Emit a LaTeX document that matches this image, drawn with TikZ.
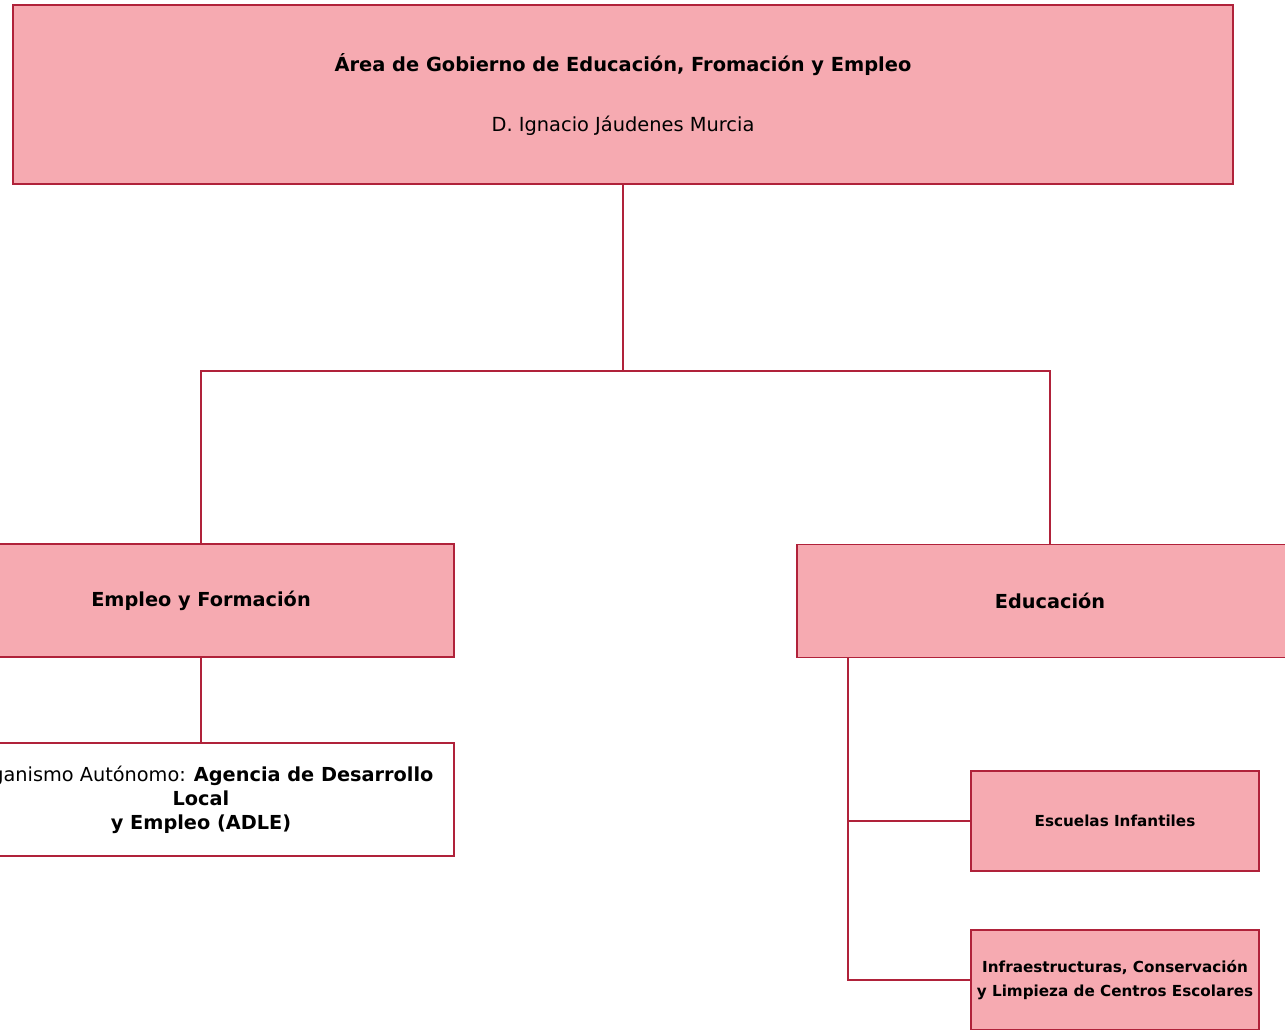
\documentclass[tikz,border=0pt]{standalone}
\usepackage{fontspec}
\setmainfont{DejaVu Sans}
\usepackage{tikz}
\usetikzlibrary{positioning}
\definecolor{boxpink}{HTML}{F6AAB1}
\definecolor{boxline}{HTML}{B0223A}
\tikzset{every picture/.style={line width=1.5pt},
  unitbox/.style={draw=boxline,fill=boxpink,align=center,inner sep=0pt},
  bigunit/.style={unitbox,minimum width=506pt,minimum height=113pt,font=\fontsize{19.3}{24}\selectfont\bfseries},
  smallunit/.style={unitbox,minimum width=288pt,minimum height=100pt,font=\fontsize{15.2}{24}\selectfont\bfseries},
  orgbox/.style={unitbox,fill=white,minimum width=506pt,minimum height=113pt,font=\fontsize{19.3}{24}\selectfont},
  link/.style={draw=boxline}}

\begin{document}
\begin{tikzpicture}[x=1pt,y=-1pt]
\useasboundingbox (0,0) rectangle (1285,1029);
\clip (0,0) rectangle (1285,1029);
\node[unitbox,minimum width=1220pt,minimum height=179pt,font=\fontsize{19.4}{22}\selectfont] (area) at (623,94.5)
  {\textbf{Área de Gobierno de Educación, Fromación y Empleo}\\[38pt]D. Ignacio Jáudenes Murcia};
\node[bigunit] (empleo) at (201,600.5) {Empleo y Formación};
\node[orgbox] (adle) at (201,799.5) {Organismo Autónomo: \textbf{Agencia de Desarrollo}\\ \textbf{Local}\\ \textbf{y Empleo (ADLE)}};
\node[bigunit] (educ) at (1050,601) {Educación};
\node[smallunit] (escuelas) at (1115,821) {Escuelas Infantiles};
\node[smallunit] (infra) at (1115,980) {Infraestructuras, Conservación\\y Limpieza de Centros Escolares};
\coordinate (split) at (623,371);
\coordinate (trunk) at (848,657);
\draw[link] (area.south) -- (split) -| (empleo.north);
\draw[link] (split) -| (educ.north);
\draw[link] (empleo) -- (adle);
\draw[link] (trunk) |- (escuelas.west);
\draw[link] (trunk) |- (infra.west);
\end{tikzpicture}
\end{document}
